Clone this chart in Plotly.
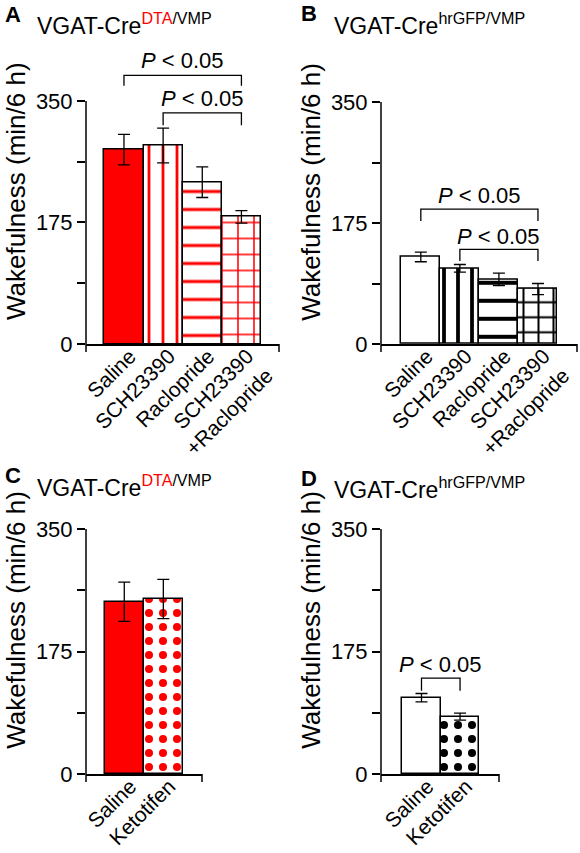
import plotly.graph_objects as go

# ---------------- data ----------------
cats_ab = ["Saline", "SCH23390", "Raclopride", "SCH23390<br>+Raclopride"]
cats_cd = ["Saline", "Ketotifen"]

a_vals = [280, 286, 233, 183]
a_se = [22, 25, 22, 9]
b_vals = [126, 109.5, 93.5, 79.5]
b_se = [7, 5.5, 9, 8]
c_vals = [246, 250]
c_se = [28, 28]
d_vals = [109, 82]
d_se = [6, 5]

yticks = [0, 175, 350]
yticktext = ["0", "175", "350"]
yminor = [87.5, 262.5]

# brackets: (from index, to index, top level, foot level, label level)
a_brackets = [(0, 3, 387, 372, 409), (1, 3, 333, 315, 353)]
b_brackets = [(0, 3, 195, 178, 215), (1, 3, 137, 120, 156)]
d_brackets = [(0, 1, 137, 119, 157)]

RED = "#ff0000"
FONT = "Liberation Sans, Arial, sans-serif"

# per-bar styles: (fill colour, pattern shape, pattern colour, tile size, solidity)
a_style = [(RED, "", RED, 14, 0.2), ("white", "|", RED, 14, 0.2),
           ("white", "-", RED, 18, 0.17), ("white", "+", RED, 16, 0.18)]
b_style = [("white", "", "black", 14, 0.27), ("white", "|", "black", 14, 0.27),
           ("white", "-", "black", 18, 0.22), ("white", "+", "black", 15, 0.25)]
c_style = [(RED, "", RED, 14, 0.26), ("white", ".", RED, 14, 0.26)]
d_style = [("white", "", "black", 14, 0.26), ("white", ".", "black", 14, 0.26)]

fig = go.Figure()

panels = [
    dict(x="x", y="y", cats=cats_ab, vals=a_vals, se=a_se, st=a_style, br=a_brackets),
    dict(x="x2", y="y2", cats=cats_ab, vals=b_vals, se=b_se, st=b_style, br=b_brackets),
    dict(x="x3", y="y3", cats=cats_cd, vals=c_vals, se=c_se, st=c_style, br=[]),
    dict(x="x4", y="y4", cats=cats_cd, vals=d_vals, se=d_se, st=d_style, br=d_brackets),
]

for p in panels:
    for i, cat in enumerate(p["cats"]):
        fill, shape, fg, size, sol = p["st"][i]
        fig.add_trace(go.Bar(
            x=[cat], y=[p["vals"][i]], xaxis=p["x"], yaxis=p["y"],
            marker=dict(color=fill, line=dict(color="black", width=1.5),
                        pattern=dict(shape=shape, fgcolor=fg, bgcolor=fill, size=size,
                                     solidity=sol, fillmode="overlay", fgopacity=1)),
            error_y=dict(type="data", array=[p["se"][i]], color="black", thickness=1.3, width=6),
            width=1.0, showlegend=False, hoverinfo="skip"))
    for (i, j, top, foot, lab) in p["br"]:
        fig.add_trace(go.Scatter(
            x=[p["cats"][i], p["cats"][i], p["cats"][j], p["cats"][j]],
            y=[foot, top, top, foot], mode="lines", xaxis=p["x"], yaxis=p["y"],
            line=dict(color="black", width=1.3), showlegend=False, hoverinfo="skip"))
        fig.add_annotation(
            x=(i + j) / 2, y=lab, xref=p["x"], yref=p["y"], showarrow=False,
            text="<i>P</i> &lt; 0.05", font=dict(size=22, color="black", family=FONT),
            xanchor="center", yanchor="middle")

# ---------------- axes ----------------
W, H = 580, 853
def fx(px):
    return px / W
def fy(px):
    return 1 - px / H

xdom = {"x": (86, 279), "x2": (381, 577), "x3": (86, 202), "x4": (381, 499)}
xrng = {"x": (-0.97, 3.96), "x2": (-1.02, 4.0), "x3": (-0.98, 1.99), "x4": (-1.05, 2.01)}
ydom = {"y": (344, 38.5), "y2": (344, 39.8), "y3": (774, 466), "y4": (774, 466)}

layout = dict(width=W, height=H, margin=dict(l=0, r=0, t=0, b=0, autoexpand=False),
              template="none", barmode="overlay",
              plot_bgcolor="white", paper_bgcolor="white", bargap=0,
              font=dict(family=FONT, color="black"))
for k, ax in enumerate(["x", "x2", "x3", "x4"]):
    yname = "y" if k == 0 else "y%d" % (k + 1)
    xkey = "xaxis" if k == 0 else "xaxis%d" % (k + 1)
    ykey = "yaxis" if k == 0 else "yaxis%d" % (k + 1)
    layout[xkey] = dict(domain=[fx(xdom[ax][0]), fx(xdom[ax][1])], range=list(xrng[ax]),
                        anchor=yname, showline=True, linecolor="black", linewidth=1.5,
                        ticks="", tickangle=-45, showgrid=False, zeroline=False,
                        automargin=False, ticklabelstandoff=-10, ticklabelshift=6,
                        tickfont=dict(size=21, family=FONT, color="black"))
    layout[ykey] = dict(domain=[fy(ydom[yname][0]), fy(ydom[yname][1])], range=[0, 440],
                        anchor=ax, showline=False, ticks="outside", ticklen=8, tickwidth=1.5,
                        tickcolor="black", tickvals=yticks, ticktext=yticktext,
                        minor=dict(tickvals=yminor, ticks="outside", ticklen=8, tickwidth=1.5,
                                   tickcolor="black", showgrid=False),
                        showgrid=False, zeroline=False, automargin=False,
                        tickfont=dict(size=22, family=FONT, color="black"),
                        title=dict(text="Wakefulness (min/6 h)", standoff=2,
                                   font=dict(size=26, family=FONT, color="black")))
fig.update_layout(**layout)

# axis line (0..350) and end ticks below the x axis
for k, ax in enumerate(["x", "x2", "x3", "x4"]):
    yname = "y" if k == 0 else "y%d" % (k + 1)
    fig.add_shape(type="line", xref=ax + " domain", yref=yname, x0=0, x1=0, y0=0, y1=350,
                  line=dict(color="black", width=1.5))
    for xd in (0, 1):
        fig.add_shape(type="line", xref=ax + " domain", yref=yname + " domain",
                      x0=xd, x1=xd, ysizemode="pixel", yanchor=0, y0=-8, y1=0,
                      line=dict(color="black", width=1.5))

# ---------------- titles ----------------
titles = [
    ("A", 3, 15, "VGAT-Cre<sup><span style='color:#ff0000'>DTA</span>/VMP</sup>", 35, 24),
    ("B", 299, 13, "VGAT-Cre<sup>hrGFP/VMP</sup>", 332, 24),
    ("C", 3, 476, "VGAT-Cre<sup><span style='color:#ff0000'>DTA</span>/VMP</sup>", 35, 486),
    ("D", 299, 478, "VGAT-Cre<sup>hrGFP/VMP</sup>", 332, 488),
]
for letter, lx, ly, t, tx, ty in titles:
    fig.add_annotation(x=fx(lx), y=fy(ly), xref="paper", yref="paper", showarrow=False,
                       text="<b>%s</b>" % letter, font=dict(size=22, family=FONT, color="black"),
                       xanchor="left", yanchor="middle")
    fig.add_annotation(x=fx(tx), y=fy(ty), xref="paper", yref="paper", showarrow=False,
                       text=t, font=dict(size=23, family=FONT, color="black"),
                       xanchor="left", yanchor="middle")

fig.write_html("out.html", config={"displayModeBar": False},
               post_script="document.body.style.margin='0px';")
